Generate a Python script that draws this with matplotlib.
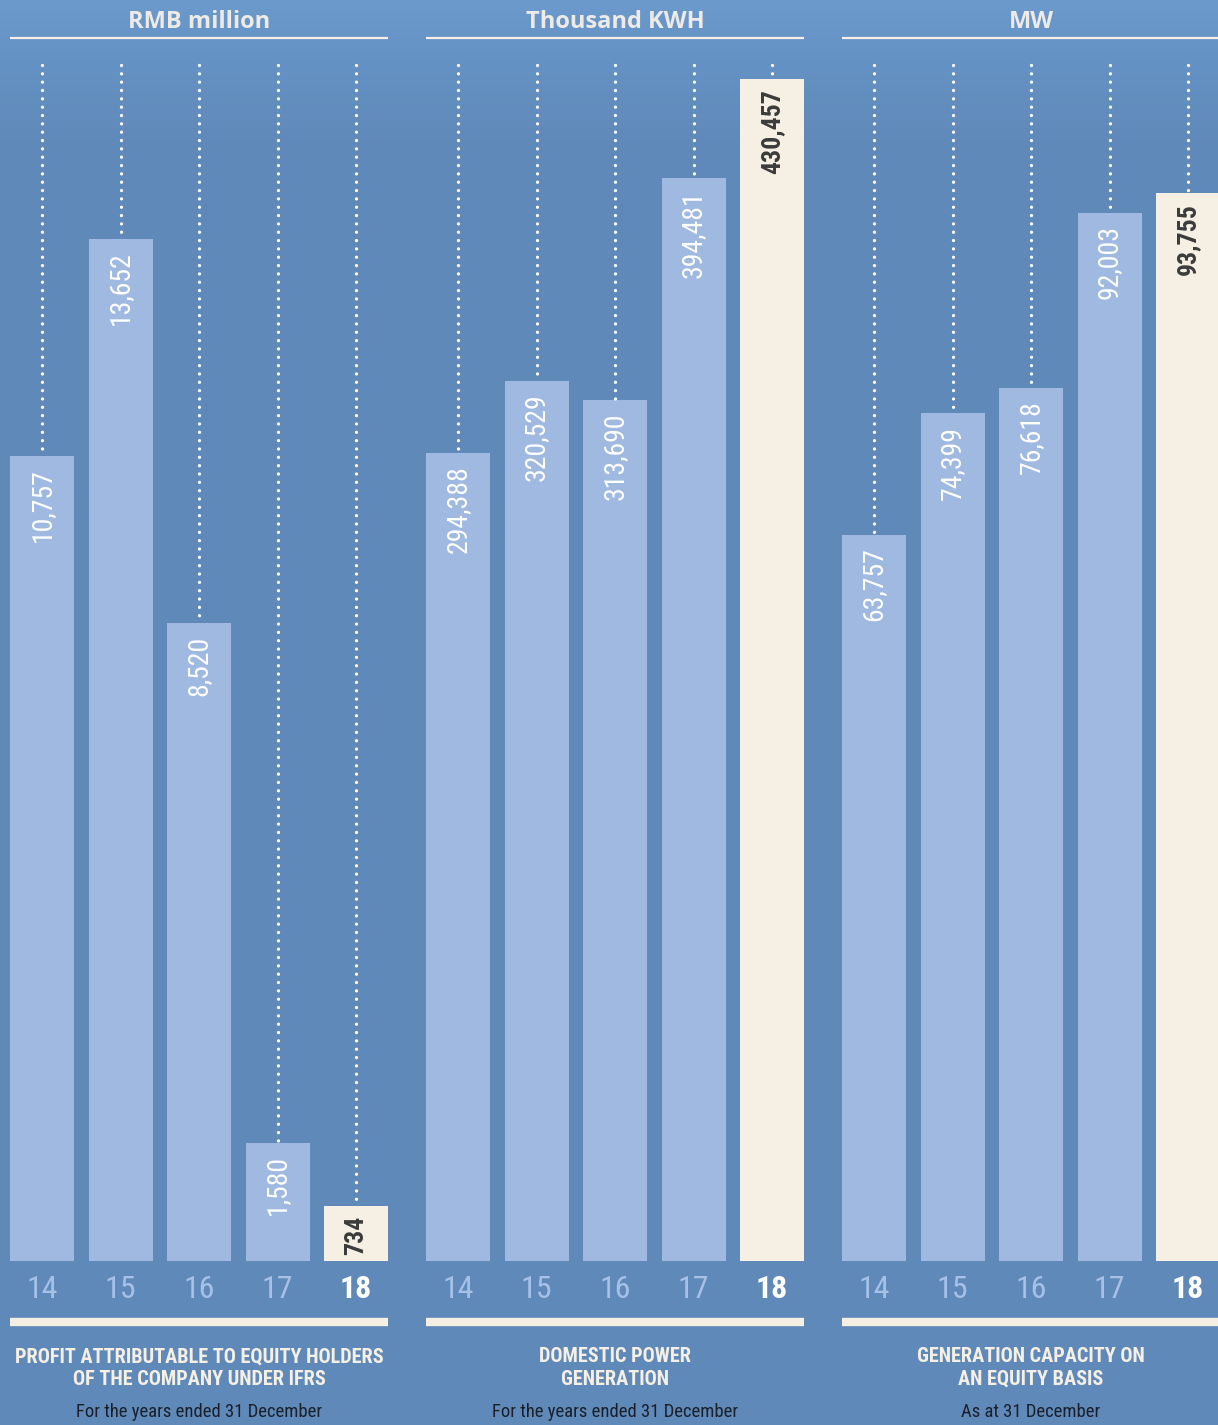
import numpy as np
import matplotlib
matplotlib.use("Agg")
import matplotlib.pyplot as plt
from matplotlib.colors import LinearSegmentedColormap

# ---------------- data ----------------
years = ["14", "15", "16", "17", "18"]
profit = [10757, 13652, 8520, 1580, 734]
generation = [294388, 320529, 313690, 394481, 430457]
capacity = [63757, 74399, 76618, 92003, 93755]

units = ["RMB million", "Thousand KWH", "MW"]
titles = ["PROFIT ATTRIBUTABLE TO EQUITY HOLDERS\nOF THE COMPANY UNDER IFRS",
          "DOMESTIC POWER\nGENERATION",
          "GENERATION CAPACITY ON\nAN EQUITY BASIS"]
subtitles = ["For the years ended 31 December",
             "For the years ended 31 December",
             "As at 31 December"]
series = [profit, generation, capacity]

# ---------------- style ----------------
W, H = 1218, 1425
BG = "#5f89b8"
BAR = "#9fb9e1"
CREAM = "#f5efe4"
YEAR_C = "#a6c0e8"
DARK_TXT = "#3b3b3b"
SUB_C = "#1a1f2a"

NARROW = ["Liberation Sans Narrow", "Roboto Condensed", "DejaVu Sans"]
HEAD = ["Open Sans", "DejaVu Sans"]

fig = plt.figure(figsize=(W / 100, H / 100), dpi=100)

# background gradient
bg = fig.add_axes([0, 0, 1, 1], zorder=-10)
grad = np.linspace(0, 1, 300).reshape(-1, 1)
cmap = LinearSegmentedColormap.from_list(
    "bg", [(0, "#6b99cc"), (0.04, "#6592c4"), (0.1, "#5f89b8"), (1, BG)])
bg.imshow(grad, aspect="auto", cmap=cmap, extent=[0, 1, 0, 1], origin="upper")
bg.set_axis_off()

# layout in pixels
lefts = [10, 426, 842]
panel_w = 378
bottom_px = 1261
top_px = 65
ytops = [15976, 435555, 104990]
spacing = 78.5
bw = 64 / spacing
line_ends = [1.0, 1.0, (1218 - 842) / panel_w]


def yfrac(ypx):
    return (bottom_px - ypx) / (bottom_px - top_px)


for p in range(3):
    ax = fig.add_axes([lefts[p] / W, (H - bottom_px) / H,
                       panel_w / W, (bottom_px - top_px) / H])
    ax.set_xlim(-bw / 2, 4 + bw / 2)
    ax.set_ylim(0, ytops[p])
    ax.set_axis_off()
    vals = series[p]
    x = np.arange(len(vals))
    colors = [BAR] * (len(vals) - 1) + [CREAM]
    ax.bar(x, vals, width=bw, color=colors, zorder=2)
    # dotted guide lines (drawn from the top down so dots start at the top)
    for xi, v in zip(x, vals):
        if v < ytops[p]:
            ax.plot([xi, xi], [ytops[p], v], color="white", lw=2.4,
                    linestyle=(0, (0.001, 2.5)), dash_capstyle="round",
                    clip_on=False, zorder=3)
    # value labels
    for i, (xi, v) in enumerate(zip(x, vals)):
        last = i == len(vals) - 1
        ax.annotate(f"{v:,}", xy=(xi, v), xytext=(0, -9 if not last else -7),
                    textcoords="offset points", rotation=90,
                    ha="center", va="top",
                    fontsize=18.5 if last else 20,
                    family=NARROW,
                    fontweight="bold" if last else "normal",
                    color=DARK_TXT if last else "white", zorder=4)
    tr = ax.get_xaxis_transform()
    # year labels
    for i, (xi, yl) in enumerate(zip(x, years)):
        last = i == len(years) - 1
        ax.text(xi, yfrac(1289), yl, transform=tr, ha="center", va="center",
                fontsize=23, family=NARROW,
                fontweight="bold" if last else "normal",
                color="white" if last else YEAR_C)
    # lines
    x0, x1 = -bw / 2, -bw / 2 + line_ends[p] * (4 + bw)
    ax.plot([x0, x1], [yfrac(1322)] * 2, transform=tr, color=CREAM, lw=6,
            solid_capstyle="butt", clip_on=False)
    ax.plot([x0, x1], [yfrac(38)] * 2, transform=tr, color=CREAM, lw=1.6,
            solid_capstyle="butt", clip_on=False)
    # header
    ax.text(2, yfrac(22), units[p], transform=tr, ha="center", va="center",
            fontsize=17, family=HEAD, fontweight="bold", color="#eeeae6")
    # titles
    ax.text(2, yfrac(1368), titles[p], transform=tr, ha="center", va="center",
            fontsize=14.6, family=NARROW, fontweight="bold", color=CREAM,
            linespacing=1.22)
    ax.text(2, yfrac(1412), subtitles[p], transform=tr, ha="center",
            va="center", fontsize=13.4, family=NARROW, color=SUB_C)

fig.savefig("out.png", dpi=100)
